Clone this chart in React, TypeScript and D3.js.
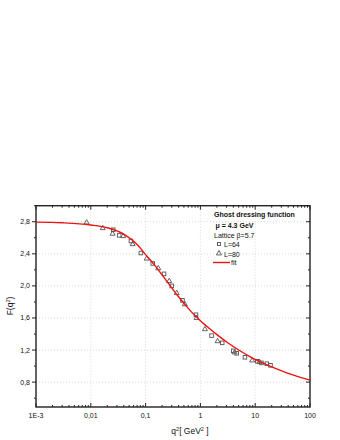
import React, { useEffect, useRef } from 'react';
import * as d3 from 'd3';

// L=64 lattice points (q^2 in GeV^2, F)
const l64Q2 = [0.0257, 0.033, 0.054, 0.082, 0.135, 0.217, 0.3, 0.47, 0.83, 1.6, 2.5, 3.98, 4.6, 6.5, 10.9, 13, 16.3, 19];
const l64F = [2.70, 2.63, 2.56, 2.41, 2.28, 2.15, 2.0, 1.82, 1.64, 1.38, 1.29, 1.19, 1.16, 1.11, 1.06, 1.04, 1.03, 1.01];
// L=80 lattice points
const l80Q2 = [0.0084, 0.0165, 0.025, 0.039, 0.058, 0.105, 0.17, 0.27, 0.37, 0.52, 0.85, 1.21, 2.06, 4.2, 8.8, 12];
const l80F = [2.79, 2.72, 2.65, 2.62, 2.52, 2.34, 2.22, 2.06, 1.91, 1.77, 1.60, 1.46, 1.31, 1.17, 1.07, 1.05];
// fit curve
const fitQ2 = [0.001, 0.003, 0.01, 0.02, 0.04, 0.07, 0.1, 0.15, 0.2, 0.28, 0.4, 0.6, 0.85, 1, 1.5, 2, 3.2, 5, 8, 10, 20, 32, 50, 100];
const fitF = [2.795, 2.787, 2.76, 2.725, 2.645, 2.515, 2.39, 2.249, 2.137, 2.003, 1.864, 1.72, 1.611, 1.566, 1.462, 1.392, 1.288, 1.201, 1.119, 1.083, 0.99, 0.935, 0.888, 0.825];

const xTicks = [0.001, 0.01, 0.1, 1, 10, 100];
const xTickLabels = ['1E-3', '0,01', '0,1', '1', '10', '100'];
const yTicks = [0.8, 1.2, 1.6, 2.0, 2.4, 2.8];
const yTickLabels = ['0,8', '1,2', '1,6', '2,0', '2,4', '2,8'];

const App = () => {
  const ref = useRef<SVGSVGElement>(null);

  useEffect(() => {
    const left = 36, right = 310, top = 205.7, bottom = 407;
    const svg = d3.select(ref.current);
    svg.selectAll('*').remove();

    const x = d3.scaleLog().domain([0.001, 100]).range([left, right]);
    const y = d3.scaleLinear().domain([0.49, 3.0]).range([bottom, top]);
    const font = 'Liberation Sans, Arial, sans-serif';

    // GRID
    const grid = svg.append('g')
      .attr('stroke', '#c8c8c8')
      .attr('stroke-width', 0.7)
      .attr('stroke-dasharray', '1,2');
    xTicks.slice(1, -1).forEach(t => {
      grid.append('line').attr('x1', x(t)).attr('x2', x(t)).attr('y1', top).attr('y2', bottom);
    });
    yTicks.forEach(t => {
      grid.append('line').attr('x1', left).attr('x2', right).attr('y1', y(t)).attr('y2', y(t));
    });

    // AXES (ticks drawn by hand to get Origin-like in/out ticks)
    const ax = svg.append('g').attr('stroke', '#222').attr('stroke-width', 1);
    const minorX: number[] = [];
    for (let e = -3; e < 2; e++) {
      for (let m = 2; m <= 9; m++) minorX.push(m * Math.pow(10, e));
    }
    xTicks.forEach(t => {
      ax.append('line').attr('x1', x(t)).attr('x2', x(t)).attr('y1', bottom).attr('y2', bottom - 4);
      ax.append('line').attr('x1', x(t)).attr('x2', x(t)).attr('y1', top).attr('y2', top + 4);
    });
    minorX.forEach(t => {
      ax.append('line').attr('x1', x(t)).attr('x2', x(t)).attr('y1', bottom).attr('y2', bottom - 2);
      ax.append('line').attr('x1', x(t)).attr('x2', x(t)).attr('y1', top).attr('y2', top + 2);
    });
    const minorY = d3.range(0.6, 3.01, 0.4);
    yTicks.forEach(t => {
      ax.append('line').attr('x1', left).attr('x2', left - 4).attr('y1', y(t)).attr('y2', y(t));
      ax.append('line').attr('x1', right).attr('x2', right - 4).attr('y1', y(t)).attr('y2', y(t));
    });
    minorY.forEach(t => {
      ax.append('line').attr('x1', left).attr('x2', left - 2).attr('y1', y(t)).attr('y2', y(t));
      ax.append('line').attr('x1', right).attr('x2', right - 2).attr('y1', y(t)).attr('y2', y(t));
    });
    svg.append('rect')
      .attr('x', left).attr('y', top)
      .attr('width', right - left).attr('height', bottom - top)
      .attr('fill', 'none').attr('stroke', '#222').attr('stroke-width', 1.4);

    // tick labels
    svg.append('g').selectAll('text').data(xTicks).enter().append('text')
      .attr('x', d => x(d)).attr('y', bottom + 11)
      .attr('text-anchor', 'middle')
      .attr('font-family', font).attr('font-size', 7).attr('fill', '#111')
      .text((_, i) => xTickLabels[i]);
    svg.append('g').selectAll('text').data(yTicks).enter().append('text')
      .attr('x', left - 6).attr('y', d => y(d) + 2.5)
      .attr('text-anchor', 'end')
      .attr('font-family', font).attr('font-size', 7).attr('fill', '#111')
      .text((_, i) => yTickLabels[i]);

    // axis titles
    const xt = svg.append('text')
      .attr('x', 190).attr('y', 434)
      .attr('text-anchor', 'middle')
      .attr('font-family', font).attr('font-size', 8.5).attr('fill', '#111');
    xt.append('tspan').text('q');
    xt.append('tspan').attr('dy', -3.5).attr('font-size', 5.5).text('2');
    xt.append('tspan').attr('dy', 3.5).text('[ GeV');
    xt.append('tspan').attr('dy', -3.5).attr('font-size', 5.5).text('2');
    xt.append('tspan').attr('dy', 3.5).text(' ]');

    const yt = svg.append('text')
      .attr('transform', 'translate(13, 306) rotate(-90)')
      .attr('text-anchor', 'middle')
      .attr('font-family', font).attr('font-size', 8.5).attr('fill', '#111');
    yt.append('tspan').text('F(q');
    yt.append('tspan').attr('dy', -3.5).attr('font-size', 5.5).text('2');
    yt.append('tspan').attr('dy', 3.5).text(')');

    // POINTS
    const marks = svg.append('g').attr('fill', 'none').attr('stroke', '#555').attr('stroke-width', 0.9);
    marks.selectAll('rect').data(l64Q2).enter().append('rect')
      .attr('x', d => x(d) - 1.8)
      .attr('y', (_, i) => y(l64F[i]) - 1.8)
      .attr('width', 3.6).attr('height', 3.6);
    const tri = d3.symbol().type(d3.symbolTriangle).size(11);
    marks.selectAll('path').data(l80Q2).enter().append('path')
      .attr('d', tri)
      .attr('transform', (d, i) => `translate(${x(d)}, ${y(l80F[i])})`);

    // FIT LINE
    const line = d3.line<number>()
      .x(d => x(d))
      .y((_, i) => y(fitF[i]))
      .curve(d3.curveMonotoneX);
    svg.append('path')
      .datum(fitQ2)
      .attr('d', line)
      .attr('fill', 'none')
      .attr('stroke', '#ee1111')
      .attr('stroke-width', 1.4);

    // LEGEND
    const lg = svg.append('g').attr('font-family', font).attr('font-size', 7).attr('fill', '#111');
    lg.append('text').attr('x', 214).attr('y', 217).attr('font-weight', 'bold').text('Ghost dressing function');
    lg.append('text').attr('x', 215.5).attr('y', 228).attr('font-weight', 'bold').text('\u03bc = 4.3 GeV');
    lg.append('text').attr('x', 214).attr('y', 238).text('Lattice \u03b2=5.7');
    lg.append('rect').attr('x', 217.5).attr('y', 242.5).attr('width', 3).attr('height', 3)
      .attr('fill', 'none').attr('stroke', '#555').attr('stroke-width', 0.9);
    lg.append('text').attr('x', 224).attr('y', 247).text('L=64');
    lg.append('path').attr('d', tri).attr('transform', 'translate(219, 253.5)')
      .attr('fill', 'none').attr('stroke', '#555').attr('stroke-width', 0.9);
    lg.append('text').attr('x', 224).attr('y', 256.5).text('L=80');
    lg.append('line').attr('x1', 213).attr('x2', 230).attr('y1', 262.5).attr('y2', 262.5)
      .attr('stroke', '#ee1111').attr('stroke-width', 1.4);
    lg.append('text').attr('x', 231).attr('y', 265).text('fit');
  }, []);

  return (
    <svg ref={ref} width={340} height={440}
      style={{ position: 'absolute', left: 0, top: 0, background: '#fff' }} />
  );
};

export default App;
